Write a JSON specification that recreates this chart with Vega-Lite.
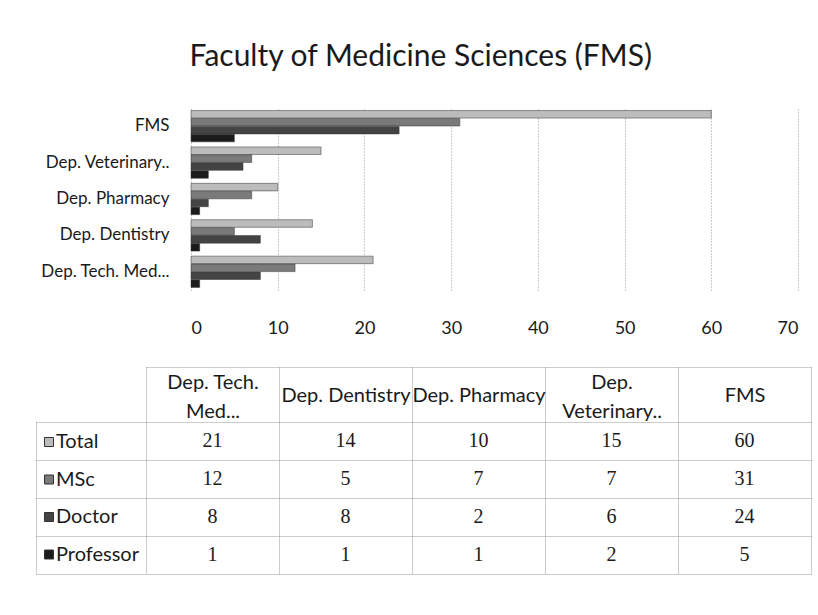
{
  "$schema": "https://vega.github.io/schema/vega-lite/v6.json",
  "padding": {"left": 35, "top": 42, "right": 5, "bottom": 5},
  "background": "white",
  "title": {"text": "Faculty of Medicine Sciences (FMS)", "anchor": "middle", "font": "Lato", "fontSize": 30, "fontWeight": "normal", "color": "#1a1a1a", "offset": 36, "dx": -25},
  "datasets": {
    "d": [
      {"dept": "Dep. Tech. Med...", "series": "Total", "value": 21},
      {"dept": "Dep. Tech. Med...", "series": "MSc", "value": 12},
      {"dept": "Dep. Tech. Med...", "series": "Doctor", "value": 8},
      {"dept": "Dep. Tech. Med...", "series": "Professor", "value": 1},
      {"dept": "Dep. Dentistry", "series": "Total", "value": 14},
      {"dept": "Dep. Dentistry", "series": "MSc", "value": 5},
      {"dept": "Dep. Dentistry", "series": "Doctor", "value": 8},
      {"dept": "Dep. Dentistry", "series": "Professor", "value": 1},
      {"dept": "Dep. Pharmacy", "series": "Total", "value": 10},
      {"dept": "Dep. Pharmacy", "series": "MSc", "value": 7},
      {"dept": "Dep. Pharmacy", "series": "Doctor", "value": 2},
      {"dept": "Dep. Pharmacy", "series": "Professor", "value": 1},
      {"dept": "Dep. Veterinary..", "series": "Total", "value": 15},
      {"dept": "Dep. Veterinary..", "series": "MSc", "value": 7},
      {"dept": "Dep. Veterinary..", "series": "Doctor", "value": 6},
      {"dept": "Dep. Veterinary..", "series": "Professor", "value": 2},
      {"dept": "FMS", "series": "Total", "value": 60},
      {"dept": "FMS", "series": "MSc", "value": 31},
      {"dept": "FMS", "series": "Doctor", "value": 24},
      {"dept": "FMS", "series": "Professor", "value": 5}
    ]
  },
  "data": {"name": "d"},
  "align": "none",
  "spacing": 29,
  "vconcat": [
    {
      "width": 607,
      "height": 182,
      "mark": {"type": "bar", "stroke": "#333", "strokeWidth": 0.5},
      "encoding": {
        "y": {
          "field": "dept", "type": "nominal",
          "sort": ["FMS", "Dep. Veterinary..", "Dep. Pharmacy", "Dep. Dentistry", "Dep. Tech. Med..."],
          "scale": {"paddingInner": 0.14, "paddingOuter": 0.07},
          "axis": {"title": null, "ticks": false, "domain": false, "labelFont": "Lato", "labelFontSize": 17, "labelColor": "#1a1a1a", "labelPadding": 22}
        },
        "yOffset": {
          "field": "series", "type": "nominal",
          "sort": ["Total", "MSc", "Doctor", "Professor"],
          "scale": {"paddingInner": 0.05}
        },
        "x": {
          "field": "value", "type": "quantitative",
          "scale": {"domain": [0, 70], "nice": false},
          "axis": {"title": null, "values": [0, 10, 20, 30, 40, 50, 60, 70], "grid": true, "gridColor": "#999", "gridDash": [1, 2], "domain": false, "ticks": false, "labelFont": "Lato", "labelFontSize": 18, "labelColor": "#1a1a1a", "labelPadding": 29}
        },
        "color": {
          "field": "series", "type": "nominal",
          "sort": ["Total", "MSc", "Doctor", "Professor"],
          "scale": {"domain": ["Total", "MSc", "Doctor", "Professor"], "range": ["#bcbcbc", "#7a7a7a", "#444444", "#1c1c1c"]},
          "legend": {"orient": "none", "legendX": -152, "legendY": 324, "title": null, "symbolType": "square", "symbolSize": 81, "symbolStrokeColor": "#333", "symbolStrokeWidth": 1, "labelFont": "Lato", "labelFontSize": 20, "labelColor": "#1a1a1a", "rowPadding": 17.5, "labelOffset": -3}
        }
      }
    },
    {
      "width": 620,
      "height": 152,
      "mark": {"type": "text", "font": "Liberation Serif", "fontSize": 20, "color": "#1a1a1a"},
      "encoding": {
        "x": {
          "field": "dept", "type": "nominal",
          "sort": ["Dep. Tech. Med...", "Dep. Dentistry", "Dep. Pharmacy", "Dep. Veterinary..", "FMS"],
          "scale": {"paddingInner": 0, "paddingOuter": 0, "range": [-45, 620]},
          "axis": {"orient": "top", "title": null, "offset": 55, "tickSize": -55, "tickBand": "extent", "grid": true, "gridColor": "#999", "gridDash": [1, 1], "tickColor": "#999", "tickDash": [1, 1], "domainColor": "#999", "domainDash": [1, 1], "labelAngle": 0, "labelBaseline": "middle", "labelPadding": {"condition": {"test": "datum.value == 'Dep. Tech. Med...' || datum.value == 'Dep. Veterinary..'", "value": 40}, "value": 27}, "labelFont": "Lato", "labelFontSize": 20, "labelColor": "#1a1a1a", "labelLineHeight": 29, "labelOverlap": false, "labelExpr": "datum.label == 'Dep. Tech. Med...' ? ['Dep. Tech.', 'Med...'] : datum.label == 'Dep. Veterinary..' ? ['Dep.', 'Veterinary..'] : datum.label"}
        },
        "y": {
          "field": "series", "type": "nominal",
          "sort": ["Total", "MSc", "Doctor", "Professor"],
          "scale": {"paddingInner": 0, "paddingOuter": 0},
          "axis": {"title": null, "offset": 155, "tickSize": -110, "tickBand": "extent", "grid": true, "gridColor": "#999", "gridDash": [1, 1], "tickColor": "#999", "tickDash": [1, 1], "domainColor": "#999", "domainDash": [1, 1], "labels": false}
        },
        "text": {"field": "value", "type": "quantitative"}
      }
    }
  ],
  "config": {"view": {"stroke": null}}
}
